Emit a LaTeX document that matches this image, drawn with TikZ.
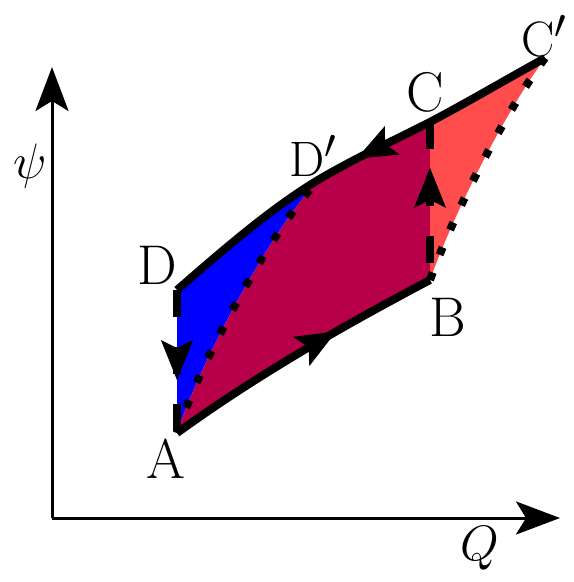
\documentclass[tikz,border=0pt]{standalone}
\usepackage{amsmath,amssymb}
\usepackage{tikz}
\usetikzlibrary{arrows.meta,positioning,calc,decorations.markings}
\usepackage{xcolor}

\definecolor{lowblue}{RGB}{0,0,255}
\definecolor{midred}{RGB}{184,0,74}
\definecolor{highred}{RGB}{255,76,76}

\begin{document}
\begin{tikzpicture}[x=0.5pt, y=-0.5pt,
  font=\fontsize{28}{32}\selectfont,
  axis/.style={line width=1.5pt, -{Stealth[length=22pt,width=16.5pt,inset=5pt]}},
  thick line/.style={line width=4pt},
  dashline/.style={line width=4pt, dash pattern=on 13.5pt off 15pt},
  dotline/.style={line width=4pt, dash pattern=on 4pt off 9.5pt},
  midarrow/.style={postaction={decorate}, decoration={markings,
      mark=at position #1 with {\arrow{Stealth[length=20pt,width=16pt,inset=4pt]}}}},
  backarrow/.style={postaction={decorate}, decoration={markings,
      mark=at position #1 with {\arrowreversed{Stealth[length=20pt,width=16pt,inset=4pt]}}}}]
  \useasboundingbox (0,0) rectangle (573,582);

  % corners of the cycle
  \coordinate (A) at (177,433);
  \coordinate (B) at (430,280);
  \coordinate (C) at (430,122);
  \coordinate (Cp) at (545,58);
  \coordinate (D) at (177,290);
  \coordinate (Dp) at (318,180);

  % areas
  \fill[lowblue] (D) -- (A) .. controls (200,363) and (268,235) .. (Dp)
    .. controls (270,209) and (223,250) .. (D) -- cycle;
  \fill[midred] (A) .. controls (260,373) and (345,325) .. (B) -- (C)
    .. controls (393,141) and (355,158) .. (Dp)
    .. controls (268,235) and (200,363) .. (A) -- cycle;
  \fill[highred] (B) .. controls (455,210) and (505,113) .. (Cp)
    .. controls (507,79) and (468,102) .. (C) -- (B) -- cycle;

  % axes
  \coordinate (O) at (52,518);
  \coordinate (Ytop) at (52,67);
  \coordinate (Xend) at (560,518);
  \draw[axis] (O) -- (Ytop);
  \draw[axis] (O) -- (Xend);
  \node (psi) at (30,166) {$\psi$};
  \node (Q) at (480,548) {$Q$};

  % dotted lines
  \draw[dotline] (A) .. controls (200,363) and (268,235) .. (Dp);
  \draw[dotline] (B) .. controls (455,210) and (505,113) .. (Cp);

  % solid lines
  \draw[thick line] (D) .. controls (223,250) and (270,209) .. (Dp)
    .. controls (355,158) and (393,141) .. (C)
    .. controls (468,102) and (507,79) .. (Cp);
  \path[backarrow=0.35] (Dp) .. controls (355,158) and (393,141) .. (C);
  \draw[thick line, midarrow=0.64] (A) .. controls (260,373) and (345,325) .. (B);

  % dashed lines
  \draw[dashline] (D) -- (A);
  \path[midarrow=0.63] (D) -- (A);
  \draw[dashline] (C) -- (B);
  \path[backarrow=0.29] (C) -- (B);

  % labels
  \node (lA) at (166,459) {A};
  \node (lB) at (448,317) {B};
  \node (lC) at (425,92) {C};
  \node (lCp) at (544,36) {$\mathrm{C}'$};
  \node (lD) at (157,265) {D};
  \node (lDp) at (313,156) {$\mathrm{D}'$};
\end{tikzpicture}
\end{document}
